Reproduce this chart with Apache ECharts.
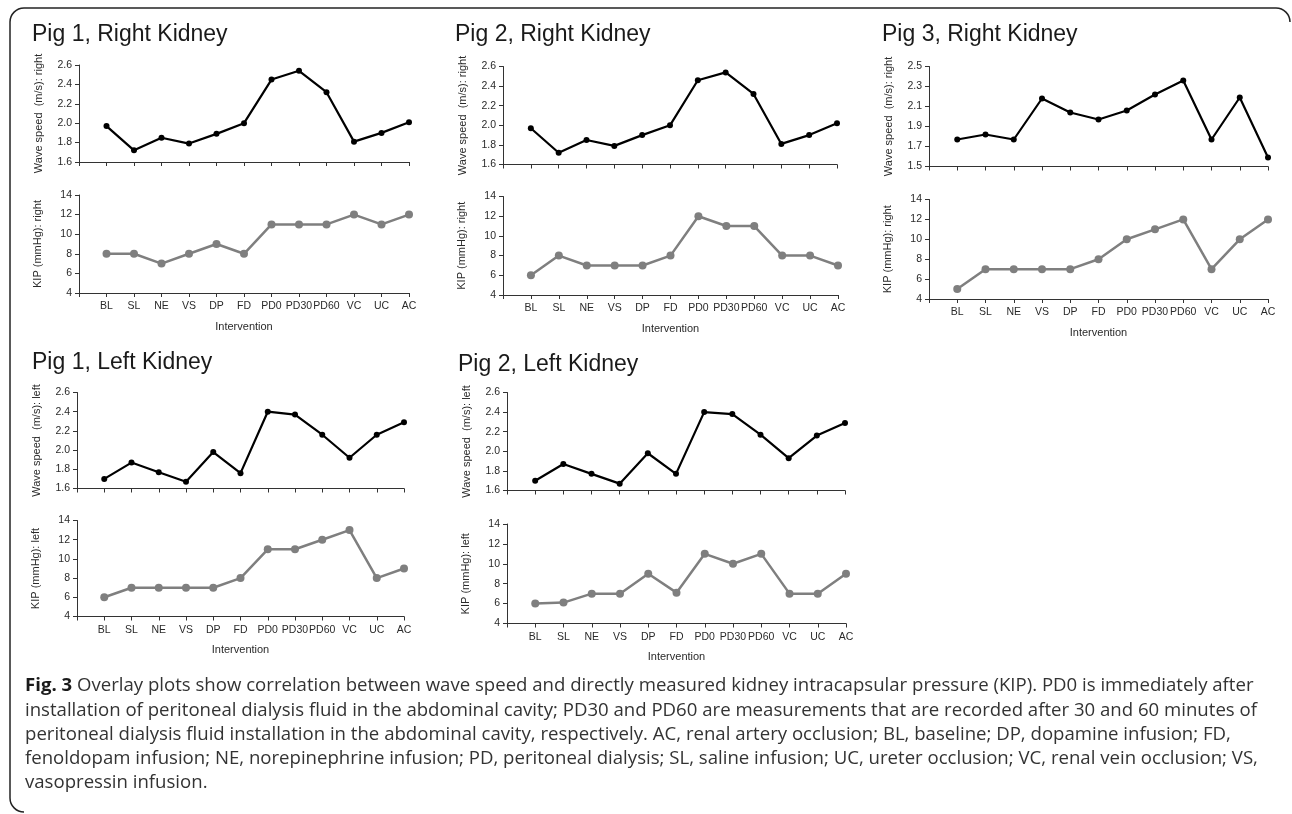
<!DOCTYPE html>
<html><head><meta charset="utf-8">
<script src="https://cdn.jsdelivr.net/npm/echarts@6/dist/echarts.min.js"></script>
<style>html,body{margin:0;padding:0;background:#fff}#c{width:1292px;height:814px}</style>
</head><body><div id="c"></div>
<script>
// ---------- data ----------
const categories = ['BL','SL','NE','VS','DP','FD','PD0','PD30','PD60','VC','UC','AC'];
const pig1RightWave = [1.97,1.72,1.85,1.79,1.89,2.00,2.45,2.54,2.32,1.81,1.90,2.01];
const pig1RightKIP  = [8,8,7,8,9,8,11,11,11,12,11,12];
const pig2RightWave = [1.97,1.72,1.85,1.79,1.90,2.00,2.46,2.54,2.32,1.81,1.90,2.02];
const pig2RightKIP  = [6,8,7,7,7,8,12,11,11,8,8,7];
const pig3RightWave = [1.77,1.82,1.77,2.18,2.04,1.97,2.06,2.22,2.36,1.77,2.19,1.59];
const pig3RightKIP  = [5,7,7,7,7,8,10,11,12,7,10,12];
const pig1LeftWave  = [1.70,1.87,1.77,1.67,1.98,1.76,2.40,2.37,2.16,1.92,2.16,2.29];
const pig1LeftKIP   = [6,7,7,7,7,8,11,11,12,13,8,9];
const pig2LeftWave  = [1.70,1.87,1.77,1.67,1.98,1.77,2.40,2.38,2.17,1.93,2.16,2.29];
const pig2LeftKIP   = [6,6.1,7,7,9,7.1,11,10,11,7,7,9];
const panelTitles = ['Pig 1, Right Kidney','Pig 2, Right Kidney','Pig 3, Right Kidney','Pig 1, Left Kidney','Pig 2, Left Kidney'];
const waveTicks = {min:1.6, max:2.6, interval:0.2};
const waveTicksPig3 = {min:1.5, max:2.5, interval:0.2};
const kipTicks = {min:4, max:14, interval:2};
const xAxisName = 'Intervention';
const captionBold = 'Fig. 3';
const captionLines = [
  ' Overlay plots show correlation between wave speed and directly measured kidney intracapsular pressure (KIP). PD0 is immediately after',
  'installation of peritoneal dialysis fluid in the abdominal cavity; PD30 and PD60 are measurements that are recorded after 30 and 60 minutes of',
  'peritoneal dialysis fluid installation in the abdominal cavity, respectively. AC, renal artery occlusion; BL, baseline; DP, dopamine infusion; FD,',
  'fenoldopam infusion; NE, norepinephrine infusion; PD, peritoneal dialysis; SL, saline infusion; UC, ureter occlusion; VC, renal vein occlusion; VS,',
  'vasopressin infusion.'
];

// ---------- layout ----------
const charts = [
  {vals:pig1RightWave, ticks:waveTicks, name:'Wave speed  (m/s): right', kind:'wave', g:{l:79,r:409,t:65,b:162}},
  {vals:pig1RightKIP,  ticks:kipTicks,  name:'KIP (mmHg): right',        kind:'kip',  g:{l:79,r:409,t:195,b:293}},
  {vals:pig2RightWave, ticks:waveTicks, name:'Wave speed  (m/s): right', kind:'wave', g:{l:503,r:837,t:66.5,b:164.5}},
  {vals:pig2RightKIP,  ticks:kipTicks,  name:'KIP (mmHg): right',        kind:'kip',  g:{l:503,r:838,t:196.5,b:295}},
  {vals:pig3RightWave, ticks:waveTicksPig3, name:'Wave speed  (m/s): right', kind:'wave', g:{l:929,r:1268,t:66.5,b:166.5}},
  {vals:pig3RightKIP,  ticks:kipTicks,  name:'KIP (mmHg): right',        kind:'kip',  g:{l:929,r:1268,t:199.5,b:299}},
  {vals:pig1LeftWave,  ticks:waveTicks, name:'Wave speed  (m/s): left',  kind:'wave', g:{l:77,r:404,t:392.5,b:488.5}},
  {vals:pig1LeftKIP,   ticks:kipTicks,  name:'KIP (mmHg): left',         kind:'kip',  g:{l:77,r:404,t:520.5,b:616.5}},
  {vals:pig2LeftWave,  ticks:waveTicks, name:'Wave speed  (m/s): left',  kind:'wave', g:{l:507,r:845,t:392.5,b:490.5}},
  {vals:pig2LeftKIP,   ticks:kipTicks,  name:'KIP (mmHg): left',         kind:'kip',  g:{l:507,r:846,t:524,b:623.5}}
];
const titlePos = [[32,35],[455,35],[882,35],[32,363],[458,364.5]];
const FONT = 'Liberation Sans, Arial, sans-serif';
const AXIS_COLOR = '#333';
const TEXT_COLOR = '#2a2a2a';

const grid = [], xAxis = [], yAxis = [], series = [];
charts.forEach((c, i) => {
  grid.push({left:c.g.l, top:c.g.t, width:c.g.r - c.g.l, height:c.g.b - c.g.t, containLabel:false});
  const isKip = c.kind === 'kip';
  xAxis.push({
    type:'value', gridIndex:i, min:0, max:categories.length, interval:1,
    splitLine:{show:false},
    axisLine:{show:true, onZero:false, lineStyle:{color:AXIS_COLOR, width:1}},
    axisTick:{show:true, length:4, lineStyle:{color:AXIS_COLOR}},
    axisLabel:{show:isKip, margin:8, color:TEXT_COLOR, fontFamily:FONT, fontSize:10.5,
      formatter: v => categories[Math.round(v) - 1] || ''},
    name: isKip ? xAxisName : '', nameLocation:'middle', nameGap:28,
    nameTextStyle:{color:TEXT_COLOR, fontFamily:FONT, fontSize:11}
  });
  yAxis.push({
    type:'value', gridIndex:i, min:c.ticks.min, max:c.ticks.max, interval:c.ticks.interval,
    splitLine:{show:false},
    axisLine:{show:true, lineStyle:{color:AXIS_COLOR, width:1}},
    axisTick:{show:true, length:4, lineStyle:{color:AXIS_COLOR}},
    axisLabel:{margin:7, color:TEXT_COLOR, fontFamily:FONT, fontSize:10.5,
      formatter: v => isKip ? String(Math.round(v)) : v.toFixed(1)},
    name:c.name, nameLocation:'middle', nameGap: isKip ? 36 : 35,
    nameTextStyle:{color:TEXT_COLOR, fontFamily:FONT, fontSize:11}
  });
  const col = isKip ? '#7f7f7f' : '#000';
  series.push({
    type:'line', xAxisIndex:i, yAxisIndex:i,
    data:c.vals.map((v, k) => [k + 1, v]),
    symbol:'circle', symbolSize: isKip ? 8 : 6, showSymbol:true,
    lineStyle:{color:col, width: isKip ? 2.5 : 2.2},
    itemStyle:{color:col},
    silent:true
  });
});

const graphic = [];
const borderStyle = {fill:null, stroke:'#222', lineWidth:1.5};
graphic.push({type:'polyline', shape:{points:[[1276,8],[24,8]]}, style:borderStyle, silent:true});
graphic.push({type:'polyline', shape:{points:[[10,22],[10,798]]}, style:borderStyle, silent:true});
graphic.push({type:'arc', shape:{cx:1276, cy:22, r:14, startAngle:-Math.PI/2, endAngle:0, clockwise:true}, style:borderStyle, silent:true});
graphic.push({type:'arc', shape:{cx:24, cy:22, r:14, startAngle:Math.PI, endAngle:Math.PI*1.5, clockwise:true}, style:borderStyle, silent:true});
graphic.push({type:'arc', shape:{cx:24, cy:798, r:14, startAngle:Math.PI/2, endAngle:Math.PI, clockwise:true}, style:borderStyle, silent:true});
panelTitles.forEach((t, i) => {
  graphic.push({type:'text', x:titlePos[i][0], y:titlePos[i][1],
    style:{text:t, fill:'#1a1a1a', fontFamily:FONT, fontSize:23, verticalAlign:'middle', align:'left'}});
});
const CAP_FONT = 'Open Sans';
const CAP_SIZE = 18.6;
captionLines.forEach((line, i) => {
  graphic.push({type:'text', x:25, y:686 + i * 24.3,
    style:{text: (i === 0 ? '{b|' + captionBold + '}' : '') + line,
      fill:'#333', fontFamily:CAP_FONT, fontSize:CAP_SIZE, verticalAlign:'middle', align:'left',
      rich:{b:{fontFamily:CAP_FONT, fontSize:CAP_SIZE, fontWeight:'bold', fill:'#1a1a1a'}}}});
});

const chart = echarts.init(document.getElementById('c'), null, {renderer:'canvas'});
chart.setOption({animation:false, backgroundColor:'#fff', grid, xAxis, yAxis, series, graphic});
</script></body></html>
